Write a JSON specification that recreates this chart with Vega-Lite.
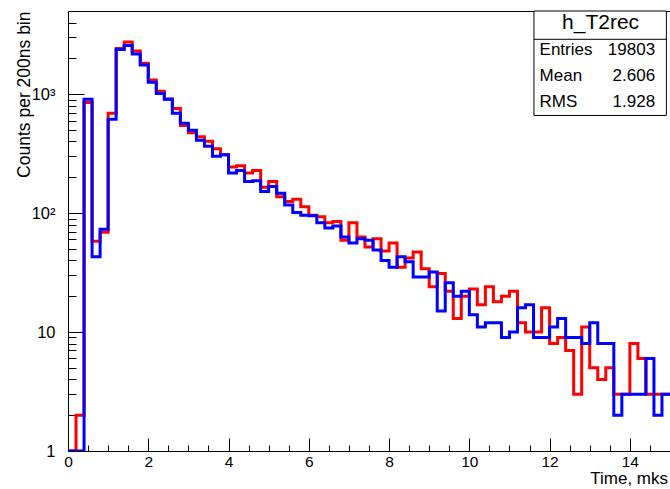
{
  "$schema": "https://vega.github.io/schema/vega-lite/v6.json",
  "width": 602,
  "height": 440,
  "autosize": {"type": "none"},
  "padding": {"left": 68, "top": 11, "right": 0, "bottom": 38},
  "background": "white",
  "config": {
    "font": "Liberation Sans",
    "view": {"stroke": "black", "strokeWidth": 1},
    "axis": {"domain": false, "grid": false, "tickColor": "black", "labelColor": "black", "titleColor": "black", "labelFont": "Liberation Sans", "titleFont": "Liberation Sans", "labelFontSize": 16, "titleFontSize": 17, "titleFontWeight": "normal", "labelFlush": false, "labelOverlap": false}
  },
  "datasets": {
    "bins": [
      {"t": 0.0, "red": 0, "blue": 0},
      {"t": 0.2, "red": 2, "blue": 0},
      {"t": 0.4, "red": 850, "blue": 905},
      {"t": 0.6, "red": 58, "blue": 43},
      {"t": 0.8, "red": 69, "blue": 73},
      {"t": 1.0, "red": 690, "blue": 614},
      {"t": 1.2, "red": 2420, "blue": 2370},
      {"t": 1.4, "red": 2740, "blue": 2570},
      {"t": 1.6, "red": 2300, "blue": 2180},
      {"t": 1.8, "red": 1820, "blue": 1760},
      {"t": 2.0, "red": 1314, "blue": 1256},
      {"t": 2.2, "red": 1060, "blue": 1013},
      {"t": 2.4, "red": 910, "blue": 905},
      {"t": 2.6, "red": 757, "blue": 690},
      {"t": 2.8, "red": 546, "blue": 568},
      {"t": 3.0, "red": 473, "blue": 498},
      {"t": 3.2, "red": 438, "blue": 410},
      {"t": 3.4, "red": 402, "blue": 365},
      {"t": 3.6, "red": 348, "blue": 300},
      {"t": 3.8, "red": 310, "blue": 310},
      {"t": 4.0, "red": 244, "blue": 217},
      {"t": 4.2, "red": 250, "blue": 228},
      {"t": 4.4, "red": 217, "blue": 184},
      {"t": 4.6, "red": 228, "blue": 187},
      {"t": 4.8, "red": 165, "blue": 152},
      {"t": 5.0, "red": 184, "blue": 167},
      {"t": 5.2, "red": 137, "blue": 147},
      {"t": 5.4, "red": 125, "blue": 117},
      {"t": 5.6, "red": 131, "blue": 101},
      {"t": 5.8, "red": 113, "blue": 96},
      {"t": 6.0, "red": 96, "blue": 95},
      {"t": 6.2, "red": 93, "blue": 83},
      {"t": 6.4, "red": 83, "blue": 75},
      {"t": 6.6, "red": 85, "blue": 78},
      {"t": 6.8, "red": 59, "blue": 63},
      {"t": 7.0, "red": 83, "blue": 56},
      {"t": 7.2, "red": 63, "blue": 61},
      {"t": 7.4, "red": 52, "blue": 59},
      {"t": 7.6, "red": 61, "blue": 49},
      {"t": 7.8, "red": 48, "blue": 40},
      {"t": 8.0, "red": 56, "blue": 35},
      {"t": 8.2, "red": 35, "blue": 43},
      {"t": 8.4, "red": 42, "blue": 39},
      {"t": 8.6, "red": 47, "blue": 29},
      {"t": 8.8, "red": 34, "blue": 29},
      {"t": 9.0, "red": 24, "blue": 32},
      {"t": 9.2, "red": 31, "blue": 15},
      {"t": 9.4, "red": 22, "blue": 26},
      {"t": 9.6, "red": 13, "blue": 20},
      {"t": 9.8, "red": 20, "blue": 22},
      {"t": 10.0, "red": 23, "blue": 14},
      {"t": 10.2, "red": 17, "blue": 11},
      {"t": 10.4, "red": 24, "blue": 12},
      {"t": 10.6, "red": 18, "blue": 12},
      {"t": 10.8, "red": 20, "blue": 9},
      {"t": 11.0, "red": 22, "blue": 10},
      {"t": 11.2, "red": 12, "blue": 16},
      {"t": 11.4, "red": 10, "blue": 17},
      {"t": 11.6, "red": 10, "blue": 9},
      {"t": 11.8, "red": 16, "blue": 9},
      {"t": 12.0, "red": 8, "blue": 11},
      {"t": 12.2, "red": 9, "blue": 13},
      {"t": 12.4, "red": 7, "blue": 9},
      {"t": 12.6, "red": 3, "blue": 9},
      {"t": 12.8, "red": 11, "blue": 8},
      {"t": 13.0, "red": 5, "blue": 12},
      {"t": 13.2, "red": 4, "blue": 8},
      {"t": 13.4, "red": 5, "blue": 8},
      {"t": 13.6, "red": 3, "blue": 2},
      {"t": 13.8, "red": 3, "blue": 3},
      {"t": 14.0, "red": 8, "blue": 3},
      {"t": 14.2, "red": 6, "blue": 3},
      {"t": 14.4, "red": 3, "blue": 6},
      {"t": 14.6, "red": 3, "blue": 2},
      {"t": 14.8, "red": 3, "blue": 3},
      {"t": 15.0, "red": 3, "blue": 3}
    ],
    "stats": [
      {"label": "Entries", "value": "19803"},
      {"label": "Mean", "value": "2.606"},
      {"label": "RMS", "value": "1.928"}
    ]
  },
  "resolve": {"axis": {"x": "independent", "y": "independent"}},
  "layer": [
    {
      "data": {"name": "bins"},
      "mark": {"type": "line", "interpolate": "step-after", "color": "#ff0000", "strokeWidth": 3, "clip": true, "invalid": "show"},
      "encoding": {
        "x": {"field": "t", "type": "quantitative", "scale": {"domain": [0, 15], "nice": false, "zero": false},
          "axis": {"orient": "bottom", "values": [0.5, 1, 1.5, 2.5, 3, 3.5, 4.5, 5, 5.5, 6.5, 7, 7.5, 8.5, 9, 9.5, 10.5, 11, 11.5, 12.5, 13, 13.5, 14.5], "tickSize": -6, "labels": false, "title": null}},
        "y": {"field": "red", "type": "quantitative", "scale": {"type": "log", "domain": [1, 5000], "nice": false, "clamp": true},
          "axis": {"orient": "left", "values": [2, 3, 4, 5, 6, 7, 8, 9, 20, 30, 40, 50, 60, 70, 80, 90, 200, 300, 400, 500, 600, 700, 800, 900, 2000, 3000, 4000], "tickSize": -8, "labels": false, "title": null}}
      }
    },
    {
      "data": {"name": "bins"},
      "mark": {"type": "line", "interpolate": "step-after", "color": "#0000ff", "strokeWidth": 3, "clip": true, "invalid": "show"},
      "encoding": {
        "x": {"field": "t", "type": "quantitative",
          "axis": {"orient": "bottom", "values": [0, 2, 4, 6, 8, 10, 12, 14], "tickSize": -13, "labelPadding": 16, "labelFontSize": 15.5, "title": "Time, mks", "titleX": 599.5, "titleY": 32.5, "titleAlign": "right", "titleBaseline": "alphabetic", "titleAnchor": "end"}},
        "y": {"field": "blue", "type": "quantitative",
          "axis": {"orient": "left", "values": [1, 10, 100, 1000], "tickSize": -16, "labelPadding": 29, "labelFontSize": 16.5, "labelExpr": "datum.value == 100 ? '10²' : datum.value == 1000 ? '10³' : datum.label", "title": "Counts per 200ns bin", "titleX": -39, "titleY": 0, "titleAngle": -90, "titleAlign": "right", "titleBaseline": "alphabetic", "titleAnchor": "end", "titleFontSize": 17.5}}
      }
    },
    {
      "data": {"values": [{}]},
      "mark": {"type": "rect", "fill": "white", "stroke": "black", "strokeWidth": 1},
      "encoding": {
        "x": {"datum": 11.61, "type": "quantitative", "axis": null},
        "x2": {"datum": 14.91},
        "y": {"datum": 5000, "type": "quantitative", "axis": null},
        "y2": {"datum": 662}
      }
    },
    {
      "data": {"values": [{}]},
      "mark": {"type": "rule", "color": "black", "strokeWidth": 1},
      "encoding": {
        "x": {"datum": 11.61, "type": "quantitative", "axis": null},
        "x2": {"datum": 14.91},
        "y": {"datum": 2891, "type": "quantitative", "axis": null}
      }
    },
    {
      "data": {"values": [{"name": "h_T2rec"}]},
      "mark": {"type": "text", "fontSize": 21, "align": "center", "baseline": "middle", "color": "black"},
      "encoding": {
        "x": {"datum": 13.27, "type": "quantitative", "axis": null},
        "y": {"datum": 3963, "type": "quantitative", "axis": null},
        "text": {"field": "name"}
      }
    },
    {
      "data": {"name": "stats"},
      "transform": [{"filter": "datum.label == 'Entries'"}],
      "layer": [
        {"mark": {"type": "text", "fontSize": 17, "align": "left", "baseline": "middle", "color": "black"},
          "encoding": {"x": {"datum": 11.75, "type": "quantitative", "axis": null}, "y": {"datum": 2328, "type": "quantitative", "axis": null}, "text": {"field": "label"}}},
        {"mark": {"type": "text", "fontSize": 17, "align": "right", "baseline": "middle", "color": "black"},
          "encoding": {"x": {"datum": 14.63, "type": "quantitative", "axis": null}, "y": {"datum": 2328, "type": "quantitative", "axis": null}, "text": {"field": "value"}}}
      ]
    },
    {
      "data": {"name": "stats"},
      "transform": [{"filter": "datum.label == 'Mean'"}],
      "layer": [
        {"mark": {"type": "text", "fontSize": 17, "align": "left", "baseline": "middle", "color": "black"},
          "encoding": {"x": {"datum": 11.75, "type": "quantitative", "axis": null}, "y": {"datum": 1421, "type": "quantitative", "axis": null}, "text": {"field": "label"}}},
        {"mark": {"type": "text", "fontSize": 17, "align": "right", "baseline": "middle", "color": "black"},
          "encoding": {"x": {"datum": 14.63, "type": "quantitative", "axis": null}, "y": {"datum": 1421, "type": "quantitative", "axis": null}, "text": {"field": "value"}}}
      ]
    },
    {
      "data": {"name": "stats"},
      "transform": [{"filter": "datum.label == 'RMS'"}],
      "layer": [
        {"mark": {"type": "text", "fontSize": 17, "align": "left", "baseline": "middle", "color": "black"},
          "encoding": {"x": {"datum": 11.75, "type": "quantitative", "axis": null}, "y": {"datum": 867, "type": "quantitative", "axis": null}, "text": {"field": "label"}}},
        {"mark": {"type": "text", "fontSize": 17, "align": "right", "baseline": "middle", "color": "black"},
          "encoding": {"x": {"datum": 14.63, "type": "quantitative", "axis": null}, "y": {"datum": 867, "type": "quantitative", "axis": null}, "text": {"field": "value"}}}
      ]
    }
  ]
}
